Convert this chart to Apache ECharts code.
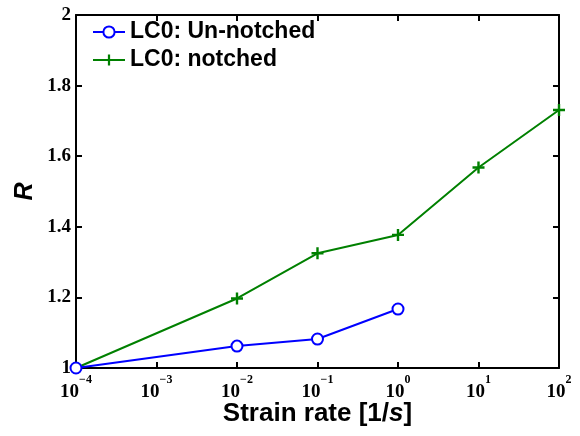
<!DOCTYPE html>
<html>
<head>
<meta charset="utf-8">
<script src="https://cdn.jsdelivr.net/npm/echarts@6/dist/echarts.min.js"></script>
<style>
  html, body { margin: 0; padding: 0; background: #fff; }
  #chart { width: 580px; height: 436px; }
</style>
</head>
<body>
<div id="chart"></div>
<script>
// strain rates [1/s]
const unnotchedRate = [1e-4, 1e-2, 1e-1, 1e0];
const unnotchedR = [1.0, 1.062, 1.082, 1.167];
const notchedRate = [1e-4, 1e-2, 1e-1, 1e0, 1e1, 1e2];
const notchedR = [1.0, 1.197, 1.325, 1.377, 1.568, 1.731];
const yTicks = ['1', '1.2', '1.4', '1.6', '1.8', '2'];

const plusPath = 'path://M4,0h2v4h4v2h-4v4h-2v-4h-4v-2h4z';

const pairs = (xs, ys) => xs.map((x, i) => [x, ys[i]]);

const chart = echarts.init(document.getElementById('chart'));

const sup = s => s.replace('-', '\u2212');

const option = {
  animation: false,
  grid: { left: 76, right: 21, top: 15, bottom: 68 },
  legend: {
    left: 87, top: 15, orient: 'vertical', itemGap: 4,
    itemWidth: 32, itemHeight: 14,
    textStyle: { fontFamily: 'Liberation Sans', fontWeight: 'bold', fontSize: 23, lineHeight: 24, color: '#000', padding: [0, 0, 0, 0] },
    data: ['LC0: Un-notched', 'LC0: notched']
  },
  xAxis: [{
    type: 'log', logBase: 10, min: 1e-4, max: 1e2,
    name: '{n|Strain rate [1/}{i|s}{n|]}',
    nameLocation: 'middle', nameGap: 33, nameMoveOverlap: false,
    nameTextStyle: {
      fontFamily: 'Liberation Sans', fontWeight: 'bold', fontSize: 26, color: '#000',
      rich: {
        n: { fontFamily: 'Liberation Sans', fontWeight: 'bold', fontStyle: 'normal', fontSize: 26, color: '#000' },
        i: { fontFamily: 'Liberation Sans', fontWeight: 'bold', fontStyle: 'italic', fontSize: 26, color: '#000' }
      }
    },
    axisLine: { lineStyle: { color: '#000', width: 2 } },
    axisTick: { inside: true, length: 6, lineStyle: { color: '#000', width: 2 } },
    minorTick: { show: false },
    splitLine: { show: false },
    axisLabel: {
      margin: 6,
      formatter: v => '{b|10}{s|' + sup(String(Math.round(Math.log10(v)))) + '}',
      rich: {
        b: { fontFamily: 'Liberation Serif', fontWeight: 'bold', fontSize: 19, color: '#000', padding: [9, 0, 0, 0] },
        s: { fontFamily: 'Liberation Serif', fontWeight: 'bold', fontSize: 12, color: '#000', verticalAlign: 'top' }
      }
    }
  }, {
    type: 'log', logBase: 10, min: 1e-4, max: 1e2, position: 'top',
    axisLine: { lineStyle: { color: '#000', width: 2 } },
    axisTick: { inside: true, length: 6, lineStyle: { color: '#000', width: 2 } },
    axisLabel: { show: false }, splitLine: { show: false }
  }],
  yAxis: [{
    type: 'value', min: 1, max: 2, interval: 0.2,
    name: 'R', nameLocation: 'middle', nameGap: 38, nameRotate: 90, nameMoveOverlap: false,
    nameTextStyle: { fontFamily: 'Liberation Sans', fontWeight: 'bold', fontStyle: 'italic', fontSize: 25, color: '#000' },
    axisLine: { lineStyle: { color: '#000', width: 2 } },
    axisTick: { inside: true, length: 6, lineStyle: { color: '#000', width: 2 } },
    splitLine: { show: false },
    axisLabel: {
      margin: 5,
      formatter: v => yTicks[Math.round((v - 1) / 0.2)],
      fontFamily: 'Liberation Serif', fontWeight: 'bold', fontSize: 19, color: '#000'
    }
  }, {
    type: 'value', min: 1, max: 2, interval: 0.2, position: 'right',
    axisLine: { show: true, lineStyle: { color: '#000', width: 2 } },
    axisTick: { show: true, inside: true, length: 6, lineStyle: { color: '#000', width: 2 } },
    axisLabel: { show: false }, splitLine: { show: false }
  }],
  series: [{
    name: 'LC0: Un-notched', type: 'line',
    data: pairs(unnotchedRate, unnotchedR),
    symbol: 'emptyCircle', symbolSize: 11,
    lineStyle: { color: '#0000ff', width: 2 },
    itemStyle: { color: '#0000ff', borderWidth: 2 },
    z: 3
  }, {
    name: 'LC0: notched', type: 'line',
    data: pairs(notchedRate, notchedR),
    symbol: plusPath, symbolSize: 12,
    lineStyle: { color: '#008000', width: 2 },
    itemStyle: { color: '#008000' },
    z: 2
  }]
};

chart.setOption(option);
</script>
</body>
</html>
